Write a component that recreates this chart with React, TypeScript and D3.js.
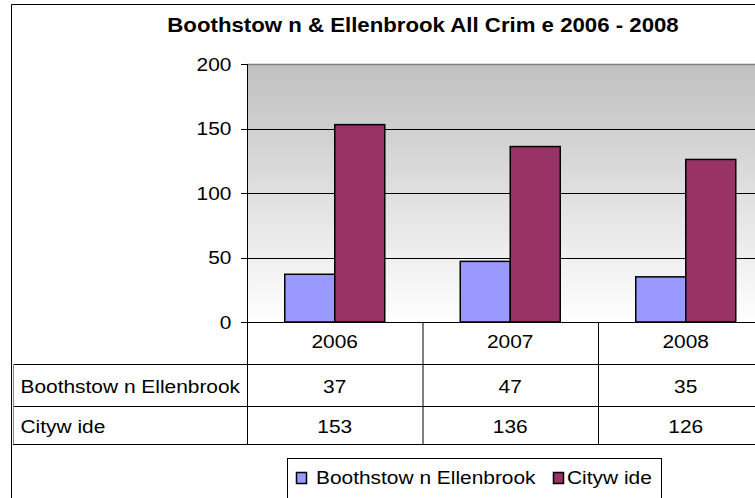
import React from "react";
import * as d3 from "d3";

const title = "Boothstow n & Ellenbrook All Crim e 2006 - 2008";
const years = ["2006", "2007", "2008"];
const seriesNames = ["Boothstow n Ellenbrook", "Cityw ide"];
const boothstown = [37, 47, 35];
const citywide = [153, 136, 126];
const yTicks = [0, 50, 100, 150, 200];
const colors = ["#9999FF", "#993366"];

const W = 755;
const H = 498;
const plotLeft = 247;
const plotTop = 64;
const plotBottom = 322;
const bandW = 175.5;
const rowLines = [364, 406, 444];
const FONT = "'Liberation Sans', Arial, sans-serif";
const FS = 19;
const SX = 1.1;

function T({
  x,
  y,
  anchor = "start",
  size = FS,
  sx = SX,
  bold = false,
  children,
}: {
  x: number;
  y: number;
  anchor?: "start" | "middle" | "end";
  size?: number;
  sx?: number;
  bold?: boolean;
  children: React.ReactNode;
}) {
  return (
    <text
      transform={`translate(${x},${y}) scale(${sx},1)`}
      textAnchor={anchor}
      fontSize={size}
      fontWeight={bold ? "bold" : "normal"}
      fill="#000"
    >
      {children}
    </text>
  );
}

export default function App() {
  const y = d3.scaleLinear().domain([0, 200]).range([plotBottom, plotTop]);
  const x0 = d3
    .scaleBand<string>()
    .domain(years)
    .range([plotLeft, plotLeft + bandW * years.length])
    .paddingInner(0)
    .paddingOuter(0);
  const x1 = d3
    .scaleBand<string>()
    .domain(seriesNames)
    .range([0, x0.bandwidth()])
    .paddingInner(0)
    .paddingOuter(0.755);
  const series = [boothstown, citywide];

  return (
    <svg
      width={W}
      height={H}
      style={{ position: "absolute", left: 0, top: 0, background: "#fff" }}
      fontFamily={FONT}
    >
      <defs>
        <linearGradient id="bg" x1="0" y1="0" x2="0" y2="1">
          <stop offset="0" stopColor="#c0c0c0" />
          <stop offset="1" stopColor="#ffffff" />
        </linearGradient>
      </defs>
      {/* outer border */}
      <line x1={11.5} y1={4.5} x2={W} y2={4.5} stroke="#000" />
      <line x1={11.5} y1={4.5} x2={11.5} y2={H} stroke="#000" />

      {/* title */}
      <T x={423} y={32} anchor="middle" size={19.5} sx={1.14} bold>
        {title}
      </T>

      {/* plot background */}
      <rect
        x={plotLeft}
        y={plotTop}
        width={W - plotLeft}
        height={plotBottom - plotTop}
        fill="url(#bg)"
      />
      <line x1={plotLeft} y1={plotTop + 0.5} x2={W} y2={plotTop + 0.5} stroke="#808080" strokeWidth={1.5} />

      {/* gridlines */}
      {yTicks
        .filter((t) => t > 0 && t < 200)
        .map((t) => (
          <line
            key={t}
            x1={plotLeft}
            x2={W}
            y1={Math.round(y(t)) + 0.5}
            y2={Math.round(y(t)) + 0.5}
            stroke="#000"
          />
        ))}

      {/* bars */}
      {years.map((yr, i) => (
        <g key={yr} transform={`translate(${x0(yr)},0)`}>
          {seriesNames.map((s, j) => (
            <rect
              key={s}
              x={x1(s)}
              y={y(series[j][i])}
              width={x1.bandwidth()}
              height={plotBottom - y(series[j][i])}
              fill={colors[j]}
              stroke="#000"
              strokeWidth={1.5}
            />
          ))}
        </g>
      ))}

      {/* y axis */}
      <line x1={plotLeft + 0.5} y1={plotTop} x2={plotLeft + 0.5} y2={rowLines[2]} stroke="#000" />
      {yTicks.map((t) => (
        <g key={t}>
          <line
            x1={plotLeft - 6}
            x2={plotLeft}
            y1={Math.round(y(t)) + 0.5}
            y2={Math.round(y(t)) + 0.5}
            stroke="#000"
          />
          <T x={231.5} y={y(t) + 6.7} anchor="end">
            {t}
          </T>
        </g>
      ))}

      {/* data table */}
      <line x1={plotLeft} x2={W} y1={plotBottom + 0.5} y2={plotBottom + 0.5} stroke="#000" />
      {rowLines.map((ry) => (
        <line key={ry} x1={13} x2={W} y1={ry + 0.5} y2={ry + 0.5} stroke="#000" />
      ))}
      <line x1={13.5} x2={13.5} y1={rowLines[0]} y2={rowLines[2]} stroke="#888" />
      {years.map((yr) => (
        <line
          key={yr}
          x1={(x0(yr) as number) + bandW + 0.5}
          x2={(x0(yr) as number) + bandW + 0.5}
          y1={plotBottom}
          y2={rowLines[2]}
          stroke="#000"
        />
      ))}
      {years.map((yr) => (
        <T key={yr} x={(x0(yr) as number) + bandW / 2} y={348.3} anchor="middle">
          {yr}
        </T>
      ))}
      {seriesNames.map((s, j) => (
        <g key={s}>
          <T x={20.5} y={rowLines[j] + (j === 0 ? 29 : 26.5)}>
            {s}
          </T>
          {years.map((yr, i) => (
            <T
              key={yr}
              x={(x0(yr) as number) + bandW / 2}
              y={rowLines[j] + (j === 0 ? 29 : 26.5)}
              anchor="middle"
            >
              {series[j][i]}
            </T>
          ))}
        </g>
      ))}

      {/* legend */}
      <rect x={287.5} y={458.5} width={374} height={60} fill="#fff" stroke="#000" />
      <rect x={296.5} y={472.5} width={10} height={11} fill={colors[0]} stroke="#000" strokeWidth={1.5} />
      <T x={316} y={483.5}>
        {seriesNames[0]}
      </T>
      <rect x={553.5} y={472.5} width={10} height={11} fill={colors[1]} stroke="#000" strokeWidth={1.5} />
      <T x={567} y={483.5}>
        {seriesNames[1]}
      </T>
    </svg>
  );
}
